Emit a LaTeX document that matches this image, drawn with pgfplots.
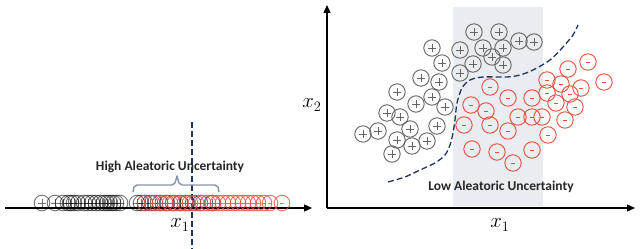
\documentclass[border=0pt]{standalone}
\usepackage{pgfplots}
\pgfplotsset{compat=1.18}
\usepackage{fontspec}
\setmainfont{Carlito}
\usetikzlibrary{arrows.meta}
\definecolor{pg}{RGB}{100,100,100}
\definecolor{rd}{RGB}{230,78,58}
\definecolor{nv}{RGB}{31,52,96}
\definecolor{bgc}{RGB}{233,236,240}
\definecolor{br}{RGB}{130,148,172}
\definecolor{tx}{RGB}{38,38,38}
\pgfdeclareplotmark{cplus}{%
 \pgfpathcircle{\pgfpointorigin}{\pgfplotmarksize}%
 \pgfusepathqstroke
 \pgfpathmoveto{\pgfqpoint{-0.5\pgfplotmarksize}{0pt}}%
 \pgfpathlineto{\pgfqpoint{0.5\pgfplotmarksize}{0pt}}%
 \pgfpathmoveto{\pgfqpoint{0pt}{-0.5\pgfplotmarksize}}%
 \pgfpathlineto{\pgfqpoint{0pt}{0.5\pgfplotmarksize}}%
 \pgfusepathqstroke}
\pgfdeclareplotmark{cminus}{%
 \pgfpathcircle{\pgfpointorigin}{\pgfplotmarksize}%
 \pgfusepathqstroke
 \pgfpathmoveto{\pgfqpoint{-0.2\pgfplotmarksize}{0pt}}%
 \pgfpathlineto{\pgfqpoint{0.2\pgfplotmarksize}{0pt}}%
 \pgfusepathqstroke}
\begin{document}
\begin{tikzpicture}[x=1pt,y=1pt]
\useasboundingbox (0,0) rectangle (640,249);
% ---------- left panel ----------
\begin{axis}[anchor=south west, at={(5pt,0pt)}, x=1pt, y=1pt,
  xmin=5, xmax=312, ymin=-41, ymax=208,
  axis x line=middle, axis y line=none,
  xtick=\empty, ytick=\empty, clip=false, enlargelimits=false,
  axis line style={line width=1.3pt, -{Triangle[length=8pt,width=7pt]}}]
\addplot[only marks, mark=cplus, mark size=7.8pt, mark options={line width=0.9pt, draw=black, draw opacity=0.55}]
 coordinates {(42,5)(55,5)(63,5)(68,5)(71,5)(74,5)(78,5)(84,5)(88,5)(92,5)(96,5)(100,5)(104,5)(107,5)(110,5)(113,5)(116,5)(120,5)
 (137,5)(141,5)(145,5)(150,5)(155,5)(160,5)(167,5)(173,5)(180,5)(187,5)(193,5)(200,5)(212,5)};
\addplot[only marks, mark=cminus, mark size=7.8pt, mark options={line width=0.9pt, draw=rd, draw opacity=0.8}]
 coordinates {(145,5)(152,5)(160,5)(165,5)(170,5)(175,5)(180,5)(185,5)(190,5)(196,5)(203,5)(208,5)(213,5)(218,5)(223,5)(228,5)(233,5)(238,5)(243,5)(248,5)(253,5)(258,5)(264,5)(270,5)(282,5)};
\addplot[nv, line width=1.2pt, dash pattern=on 6pt off 3pt] coordinates {(192,86) (192,-41)};
\addplot[br, line width=1.4pt, line join=round] coordinates {(133,16)(134,21)(137,23)(172,23)(175,25)(177,32)(179,25)(182,23)(215,23)(218,21)(219,16)};
\node[font=\bfseries\fontsize{13.5}{15}\selectfont, text=tx] at (axis cs:170,41) {High Aleatoric Uncertainty};
\node[font=\fontsize{20}{21}\selectfont] at (axis cs:180,-17) {$x_1$};
\end{axis}
% ---------- right panel ----------
\begin{axis}[anchor=south west, at={(327pt,41pt)}, x=1pt, y=1pt,
  xmin=327, xmax=635, ymin=0, ymax=203,
  axis lines=left,
  xtick=\empty, ytick=\empty, clip=false, enlargelimits=false,
  axis line style={line width=1.3pt, -{Triangle[length=8pt,width=7pt]}}]
\addplot[fill=bgc, draw=none] coordinates {(453,2)(543,2)(543,201)(453,201)} -- cycle;
\addplot[nv, line width=1.3pt, dash pattern=on 6pt off 3pt, smooth] coordinates {(388,26)(405,31)(420,38)(435,45)(445,53)(450,63)(453,75)(455,88)(457,105)(462,120)(470,128)(483,131)(507,131)(520,133)(533,138)(550,148)(563,161)(573,173)(578,183)};
\addplot[only marks, mark=cplus, mark size=8.2pt, mark options={line width=0.9pt, draw=pg}]
 coordinates {(474,176)(499,176)(519,167)(534,166)(432,160)(460,158)(483,160)(503,160)(492,151)(442,145)(473,144)(503,143)(460,135)(421,130)(439,126)(397,116)(432,111)(416,104)(445,101)(387,95)(400,91)(363,74)(378,77)(410,79)(437,82)(397,68)(412,62)(427,67)(392,54)};
\addplot[only marks, mark=cminus, mark size=8.2pt, mark options={line width=0.9pt, draw=rd}]
 coordinates {(490,121)(508,110)(532,110)(547,128)(561,124)(568,139)(588,146)(604,126)(581,120)(547,115)(570,114)(556,105)(575,101)(471,103)(486,97)(518,91)(532,91)(542,91)(565,88)(464,83)(490,83)(508,77)(548,73)(472,59)(497,56)(532,58)(513,45)};
\node[font=\bfseries\fontsize{13.5}{15}\selectfont, text=tx] at (axis cs:501,21) {Low Aleatoric Uncertainty};
\node[font=\fontsize{20}{21}\selectfont] at (axis cs:500,-17) {$x_1$};
\node[font=\fontsize{20}{21}\selectfont] at (axis cs:312,103) {$x_2$};
\end{axis}
\end{tikzpicture}
\end{document}
